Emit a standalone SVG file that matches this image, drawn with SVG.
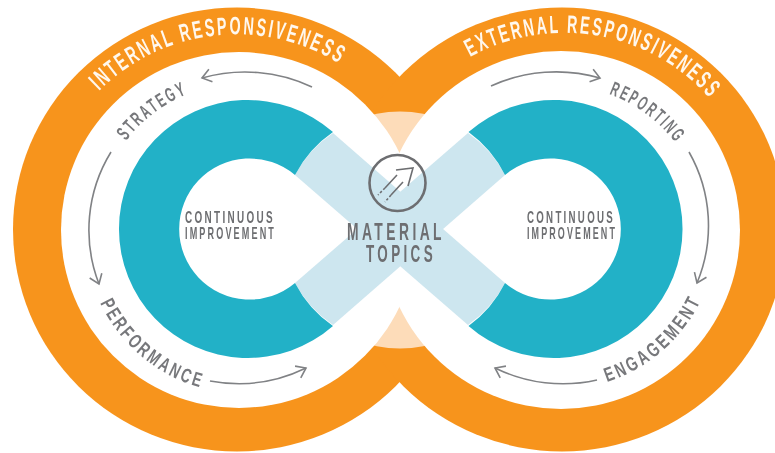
<svg xmlns="http://www.w3.org/2000/svg" width="775" height="453" viewBox="0 0 775 453">
<style>
.orange{fill:#f7941e}.peach{fill:#fddcb9}.white{fill:#fff}.teal{fill:#24b1c7}.band{fill:#cde6ef}
text{font-family:"Liberation Sans",sans-serif;font-weight:700}
.ring{fill:#fff8ee;font-size:25px;letter-spacing:4px}
.step{fill:#77787b;font-size:20px;letter-spacing:4px}
.cap{fill:#6d6e71;font-size:17px;letter-spacing:4px}
.mat{fill:#6d6e71;font-size:24px;letter-spacing:6px}
.arrow{fill:none;stroke:#808285;stroke-width:1.6;marker-end:url(#head)}
.icon{fill:none;stroke:#6d6e71;stroke-width:1.6}
</style>
<defs>
<marker id="head" viewBox="-11 -8 13 16" refX="0" refY="0" markerWidth="13" markerHeight="16" markerUnits="userSpaceOnUse" orient="auto">
<path d="M-9 -6.5L0 0L-9 6.5" fill="none" stroke="#808285" stroke-width="1.6"/>
</marker>
<filter id="soft" x="0" y="0" width="100%" height="100%"><feGaussianBlur stdDeviation="0.7"/></filter>
<path id="p1" d="M99 91A195 195 0 0 1 343 66"/>
<path id="p2" d="M470 57A195 195 0 0 1 713 102"/>
<path id="p3" d="M126 141A145 145 0 0 1 190 93"/>
<path id="p4" d="M609 94A144 144 0 0 1 677 145"/>
<path id="p5" d="M100 303A160 160 0 0 0 202 388"/>
<path id="p6" d="M607 382A158 158 0 0 0 702 298"/>
</defs>
<rect width="775" height="453" fill="#fff"/>
<g filter="url(#soft)">
<g id="outer-loop">
<ellipse class="orange" cx="237" cy="229.5" rx="224" ry="222"/>
<ellipse class="orange" cx="562" cy="229.5" rx="224" ry="222"/>
<circle class="peach" cx="400" cy="230" r="118.5"/>
<circle class="white" cx="239" cy="230" r="178"/>
<circle class="white" cx="561" cy="230" r="179"/>
</g>
<g id="material-band">
<path class="band" d="M333 133L505 283A118 118 0 0 1 468 325L295 175A118 118 0 0 1 333 133Z"/>
<path class="band" d="M468 133L295 283A118 118 0 0 0 333 325L505 175A118 118 0 0 0 468 133Z"/>
</g>
<g id="teal-left">
<path class="teal" d="M333 132A129 129 0 1 0 333 326A118 118 0 0 1 295 283A70.5 70.5 0 1 1 295 175A118 118 0 0 1 333 132Z"/>
</g>
<g id="teal-right">
<path class="teal" d="M468.500 132A129 129 0 1 1 468.500 326A118 118 0 0 0 505 283A70.5 70.5 0 1 0 505 175A118 118 0 0 0 468.500 132Z"/>
</g>
<g id="internal-responsiveness"><text class="ring"><textPath href="#p1" textLength="262" lengthAdjust="spacingAndGlyphs">INTERNAL RESPONSIVENESS</textPath></text></g>
<g id="external-responsiveness"><text class="ring"><textPath href="#p2" textLength="264" lengthAdjust="spacingAndGlyphs">EXTERNAL RESPONSIVENESS</textPath></text></g>
<g id="strategy"><text class="step"><textPath href="#p3" textLength="79" lengthAdjust="spacingAndGlyphs">STRATEGY</textPath></text></g>
<g id="reporting"><text class="step"><textPath href="#p4" textLength="85" lengthAdjust="spacingAndGlyphs">REPORTING</textPath></text></g>
<g id="performance"><text class="step"><textPath href="#p5" textLength="137" lengthAdjust="spacingAndGlyphs">PERFORMANCE</textPath></text></g>
<g id="engagement"><text class="step"><textPath href="#p6" textLength="129" lengthAdjust="spacingAndGlyphs">ENGAGEMENT</textPath></text></g>
<g id="continuous-left">
<text class="cap" x="185" y="223" textLength="90" lengthAdjust="spacingAndGlyphs">CONTINUOUS</text>
<text class="cap" x="185" y="239" textLength="91" lengthAdjust="spacingAndGlyphs">IMPROVEMENT</text>
</g>
<g id="continuous-right">
<text class="cap" x="527" y="223" textLength="88" lengthAdjust="spacingAndGlyphs">CONTINUOUS</text>
<text class="cap" x="527" y="239" textLength="90" lengthAdjust="spacingAndGlyphs">IMPROVEMENT</text>
</g>
<g id="material-topics">
<circle cx="397.5" cy="183" r="28" fill="none" stroke="#6d6e71" stroke-width="2.6"/>
<path class="icon" d="M396 170L413 168L408 186M397 175L385 188M403 182L391 195"/>
<path class="icon" d="M385 188L378 195M391 195L385 202" stroke-dasharray="2.5 2"/>
<text class="mat" x="347" y="239.500" textLength="98" lengthAdjust="spacingAndGlyphs">MATERIAL</text>
<text class="mat" x="366" y="262" textLength="70" lengthAdjust="spacingAndGlyphs">TOPICS</text>
</g>
<g id="connectors">
<path class="arrow" d="M312 87A157 157 0 0 0 202 78"/>
<path class="arrow" d="M111 152A149 149 0 0 0 99 284"/>
<path class="arrow" d="M210 381A154 154 0 0 0 306 368"/>
<path class="arrow" d="M491 86A158 158 0 0 1 600 78"/>
<path class="arrow" d="M689 152A149 149 0 0 1 697 283"/>
<path class="arrow" d="M597 380A154 154 0 0 1 495 368"/>
</g>
</g>
</svg>
